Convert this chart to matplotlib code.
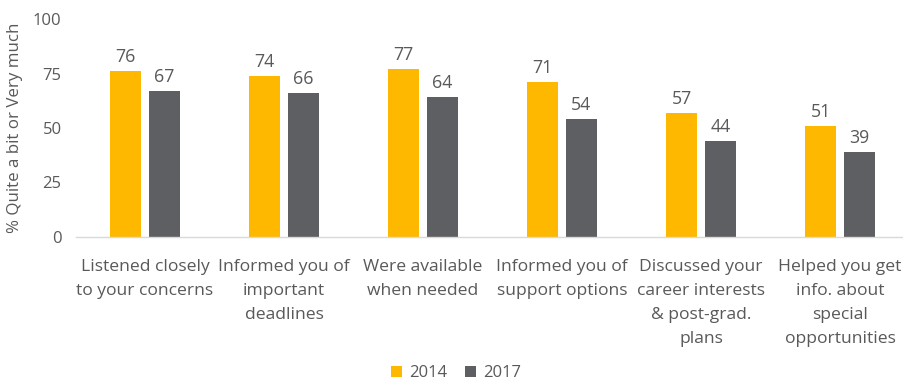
import matplotlib
matplotlib.use("Agg")
import matplotlib.pyplot as plt
import numpy as np

categories = [
    "Listened closely\nto your concerns",
    "Informed you of\nimportant\ndeadlines",
    "Were available\nwhen needed",
    "Informed you of\nsupport options",
    "Discussed your\ncareer interests\n& post-grad.\nplans",
    "Helped you get\ninfo. about\nspecial\nopportunities",
]
values_2014 = [76, 74, 77, 71, 57, 51]
values_2017 = [67, 66, 64, 54, 44, 39]
series_names = ["2014", "2017"]
y_ticks = [0, 25, 50, 75, 100]

color_2014 = "#FFB800"
color_2017 = "#5E5F62"
text_color = "#595959"

plt.rcParams["font.family"] = ["Open Sans", "DejaVu Sans"]

fig = plt.figure(figsize=(9.04, 3.84), dpi=100)
ax = fig.add_axes([75.5 / 904, 147 / 384, 834 / 904, 218 / 384])

x = np.arange(len(categories))
bw = 0.223
off = 0.14
b1 = ax.bar(x - off, values_2014, bw, color=color_2014, label=series_names[0])
b2 = ax.bar(x + off, values_2017, bw, color=color_2017, label=series_names[1])

for bars, vals in ((b1, values_2014), (b2, values_2017)):
    for rect, v in zip(bars, vals):
        ax.text(rect.get_x() + rect.get_width() / 2, v + 2.3, f"{v}",
                ha="center", va="bottom", fontsize=12.8, color=text_color)

ax.set_xlim(-0.5, len(categories) - 0.5)
ax.set_ylim(0, 100)
ax.set_yticks(y_ticks)
ax.set_xticks(x)
ax.set_xticklabels(categories, fontsize=12.6, color=text_color, linespacing=1.65)
ax.tick_params(axis="both", length=0, colors=text_color)
ax.tick_params(axis="y", labelsize=12)
ax.tick_params(axis="x", pad=16)
ax.tick_params(axis="y", pad=10)
for lbl in ax.get_yticklabels():
    lbl.set_color(text_color)

for side in ("top", "right", "left"):
    ax.spines[side].set_visible(False)
ax.spines["bottom"].set_color("#D9D9D9")
ax.spines["bottom"].set_linewidth(1.0)

ax.set_ylabel("% Quite a bit or Very much", fontsize=12.2, color=text_color, labelpad=7)

fig.legend(handles=[b1, b2], labels=series_names, loc="center",
           bbox_to_anchor=(456 / 904, 1 - 373 / 384), ncol=2, frameon=False,
           fontsize=12, handlelength=0.65, handleheight=0.65, handletextpad=0.4,
           columnspacing=1.1, labelcolor=text_color)

fig.savefig("out.png", dpi=100)
